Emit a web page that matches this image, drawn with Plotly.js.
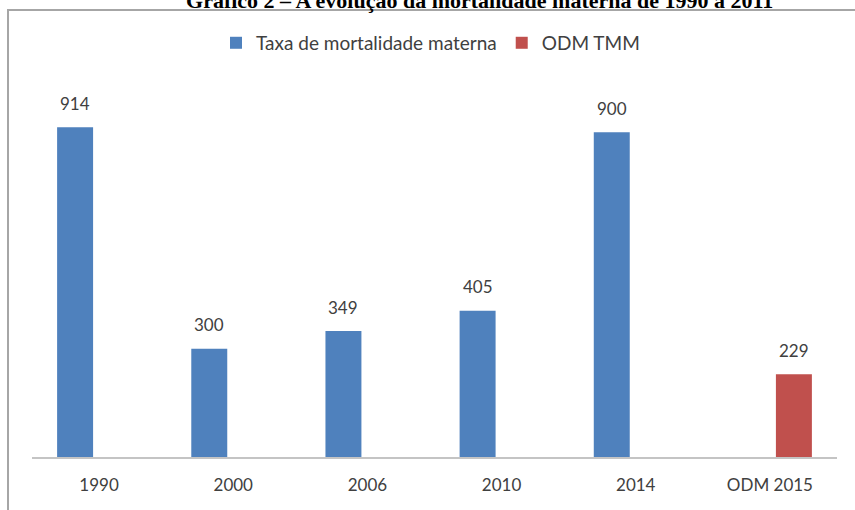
<!DOCTYPE html>
<html>
<head>
<meta charset="utf-8">
<script src="https://cdn.plot.ly/plotly-3.0.1.min.js"></script>
<style>html,body{margin:0;padding:0;background:#fff;}#chart{width:855px;height:510px;}</style>
</head>
<body>
<div id="chart"></div>
<script>
const categories = ["1990", "2000", "2006", "2010", "2014", "ODM 2015"];
const taxaMortalidade = [914, 300, 349, 405, 900, null];
const odmTmm = [null, null, null, null, null, 229];
const seriesNames = ["Taxa de mortalidade materna", "ODM TMM"];
const chartTitle = "Gráfico 2 – A evolução da mortalidade materna de 1990 a 2011";

const blue = "#4F81BD", red = "#C0504D";
const labelFont = {family: "Lato, 'Open Sans', sans-serif", size: 17, color: "#404040"};

const traces = [
  {type: "bar", name: seriesNames[0], x: categories, y: taxaMortalidade, marker: {color: blue}, hoverinfo: "none"},
  {type: "bar", name: seriesNames[1], x: categories, y: odmTmm, marker: {color: red}, hoverinfo: "none"}
];

const annotations = [];
[[taxaMortalidade, -24], [odmTmm, 24]].forEach(([vals, dx]) => {
  vals.forEach((v, i) => {
    if (v === null) return;
    // x given as the category index on the category axis
    annotations.push({x: i, y: v, xref: "x", yref: "y", text: String(v),
      showarrow: false, xshift: dx, yshift: 24, font: labelFont});
  });
});

const layout = {
  width: 855, height: 510,
  margin: {l: 32, r: 18, t: 60, b: 53},
  paper_bgcolor: "#fff", plot_bgcolor: "#fff",
  title: {text: chartTitle, x: 0.561, xanchor: "center", xref: "container", y: 1.0, yanchor: "middle", yref: "container",
    font: {family: "'Liberation Serif', 'DejaVu Serif', serif", size: 22, color: "#000", weight: "bold"}},
  barmode: "group", bargap: 0.285, bargroupgap: 0.25,
  xaxis: {type: "category", categoryorder: "array", categoryarray: categories, range: [-0.5, 5.5],
    showline: true, linecolor: "#c4c4c4", linewidth: 2, ticks: "", showgrid: false, zeroline: false,
    tickfont: labelFont, ticklabelstandoff: 12},
  yaxis: {range: [0, 1100], visible: false, showgrid: false, zeroline: false},
  showlegend: true,
  legend: {orientation: "h", x: 0.495, xanchor: "center", y: 1.043, yanchor: "middle",
    font: {family: "Lato, 'Open Sans', sans-serif", size: 19, color: "#404040"}, itemwidth: 30},
  annotations: annotations,
  shapes: [{type: "rect", xref: "paper", yref: "paper", x0: -0.0298, x1: 1.2, y0: -0.3, y1: 1.126,
    line: {color: "#a6a6a6", width: 2}, fillcolor: "rgba(0,0,0,0)", layer: "below"}]
};

Plotly.newPlot("chart", traces, layout, {displayModeBar: false, staticPlot: true});
</script>
</body>
</html>
